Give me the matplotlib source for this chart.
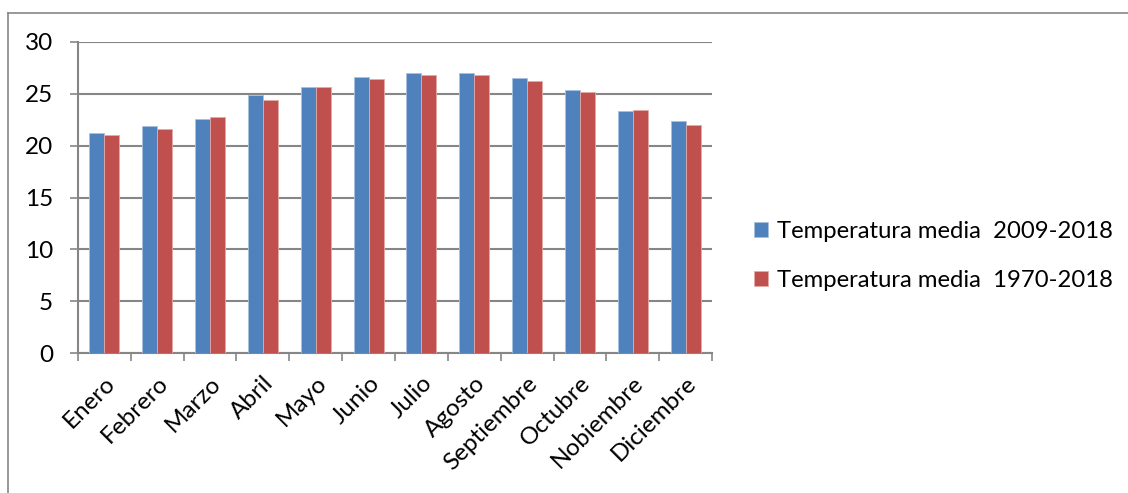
import matplotlib
matplotlib.use("Agg")
import matplotlib.pyplot as plt
from matplotlib.lines import Line2D
import numpy as np

# Monthly mean temperatures
months = ["Enero", "Febrero", "Marzo", "Abril", "Mayo", "Junio", "Julio",
          "Agosto", "Septiembre", "Octubre", "Nobiembre", "Diciembre"]
temp_2009_2018 = [21.2, 21.9, 22.6, 24.9, 25.7, 26.6, 27.0, 27.0, 26.5, 25.4, 23.3, 22.4]
temp_1970_2018 = [21.0, 21.6, 22.8, 24.4, 25.7, 26.4, 26.8, 26.8, 26.2, 25.2, 23.4, 22.0]
series_labels = ["Temperatura media  2009-2018", "Temperatura media  1970-2018"]
y_ticks = [0, 5, 10, 15, 20, 25, 30]

plt.rcParams['font.family'] = ['Lato', 'DejaVu Sans']

W, H = 1128, 493
fig = plt.figure(figsize=(W / 100, H / 100), dpi=100)
ax = fig.add_axes([78 / W, 1 - 353 / H, 634 / W, 311 / H])

grid_col = "#868686"
blue = "#4f81bd"
red = "#c0504d"
bw = 0.284

x = np.arange(len(months))
ax.bar(x - bw / 2, temp_2009_2018, bw, color=blue, edgecolor="#a9c1e0", linewidth=0.6,
       label=series_labels[0], zorder=3)
ax.bar(x + bw / 2, temp_1970_2018, bw, color=red, edgecolor="#e3aaa8", linewidth=0.6,
       label=series_labels[1], zorder=3)

ax.set_xlim(-0.5, len(months) - 0.5)
ax.set_ylim(0, 30)
ax.set_yticks(y_ticks)
ax.set_yticklabels([str(v) for v in y_ticks], fontsize=17.5)
ax.yaxis.grid(True, color=grid_col, linewidth=1.5, zorder=0)
ax.set_axisbelow(True)

# category boundary ticks on x
ax.set_xticks(np.arange(-0.5, len(months) + 0.5, 1), minor=False)
ax.set_xticklabels([])
ax.tick_params(axis="x", which="major", length=5.8, width=1.2, color=grid_col)
ax.set_xticks(x, minor=True)
ax.set_xticklabels(months, minor=True, rotation=45, ha="right",
                   rotation_mode="anchor", fontsize=17.5)
ax.tick_params(axis="x", which="minor", length=0, pad=14)
ax.tick_params(axis="y", length=5.8, width=1.2, color=grid_col, pad=12)

for side in ["top", "right"]:
    ax.spines[side].set_visible(False)
for side in ["left", "bottom"]:
    ax.spines[side].set_color(grid_col)
    ax.spines[side].set_linewidth(1.5)

fig.legend(loc="center left", bbox_to_anchor=(732 / W, 1 - 256 / H), frameon=False,
           fontsize=17.2, handlelength=0.6, handleheight=0.6, handletextpad=0.4,
           labelspacing=1.18)

# outer chart border (only left and top visible)
fig.add_artist(Line2D([8 / W, 8 / W], [0, 1 - 13 / H], transform=fig.transFigure,
                      color=grid_col, linewidth=1.2))
fig.add_artist(Line2D([8 / W, 1], [1 - 13 / H, 1 - 13 / H], transform=fig.transFigure,
                      color=grid_col, linewidth=1.2))

fig.savefig("out.png", dpi=100)
